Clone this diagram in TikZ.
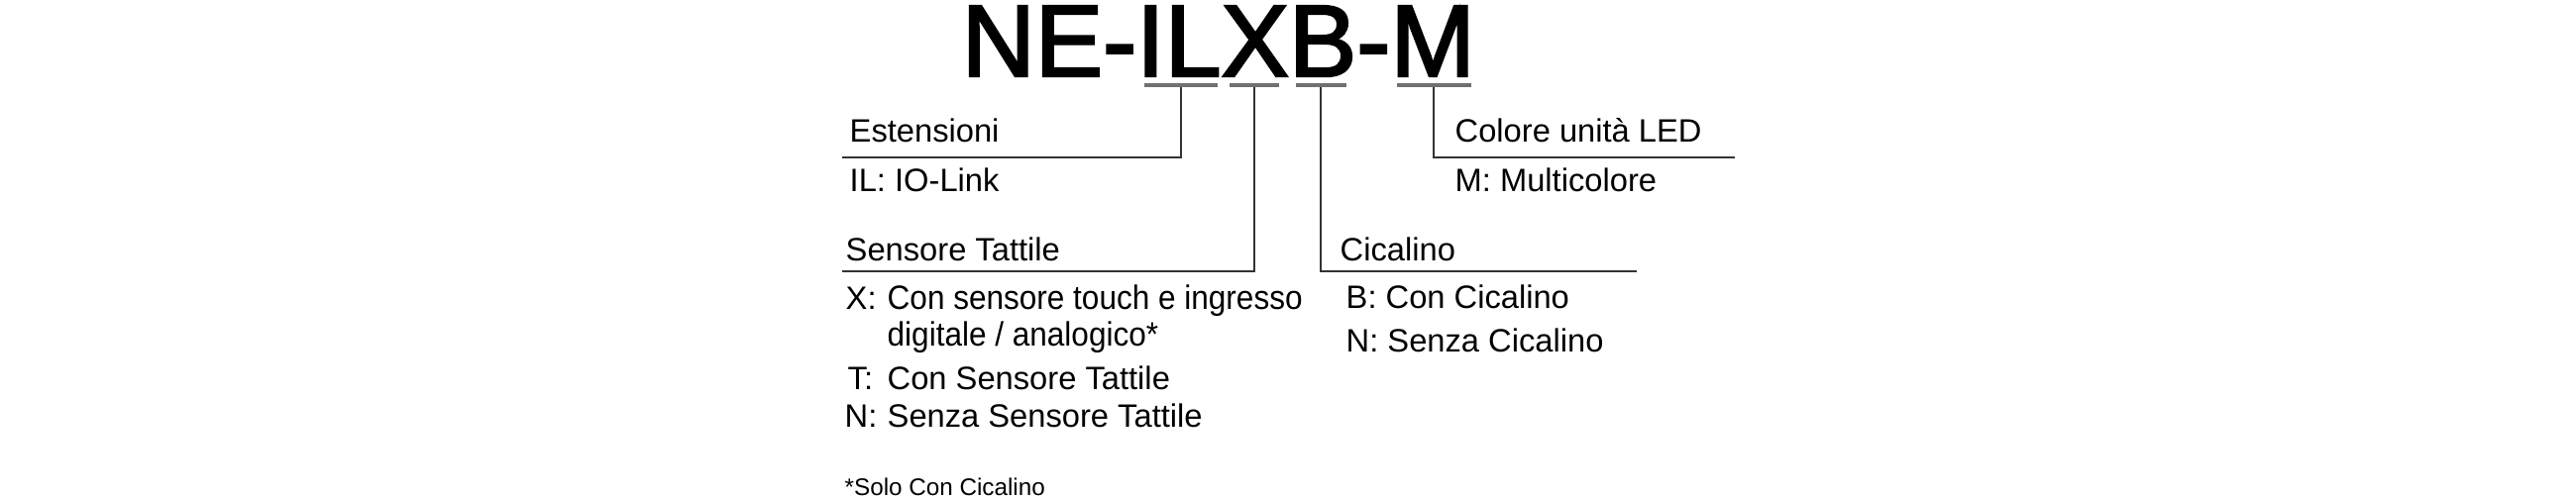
\documentclass[tikz,border=0pt]{standalone}
\usepackage{fontspec}
\setmainfont{Liberation Sans}
\newfontfamily\titlefont[FakeBold=2.4,FakeStretch=0.995]{Liberation Sans}
\newfontfamily\narrowfont[FakeStretch=0.925]{Liberation Sans}
\usetikzlibrary{positioning,calc}
\definecolor{leadgray}{gray}{0.2}
\tikzset{
    lbl/.style={inner sep=0pt,anchor=base west,font=\fontsize{9.3}{11}\selectfont},
    bar/.style={fill=leadgray!70,inner sep=0pt,minimum height=0.035cm},
    lead/.style={draw=leadgray,line width=0.5pt}
}
\begin{document}
\begin{tikzpicture}
        \useasboundingbox (0,0) rectangle (26,5.05);
        % Model code
        \node[inner sep=0pt,anchor=base west,font=\titlefont\fontsize{29.3}{32}\selectfont] (code) at (9.70,4.28) {NE-ILXB-M};
        \node[bar,minimum width=0.74cm] (barIL) at (11.92,4.19) {};
        \node[bar,minimum width=0.50cm] (barX) at (12.66,4.19) {};
        \node[bar,minimum width=0.51cm] (barB) at (13.33,4.19) {};
        \node[bar,minimum width=0.75cm] (barM) at (14.47,4.19) {};

        % Estensioni
        \coordinate (endIL) at (8.50,3.46);
        \draw[lead] (barIL.south) |- (endIL);
        \node[lbl] (extTitle) at (8.57,3.61) {Estensioni};
        \node[lbl] (extIL) at (8.57,3.11) {IL: IO-Link};

        % Colore
        \coordinate (endM) at (17.51,3.46);
        \draw[lead] (barM.south) |- (endM);
        \node[lbl] (ledTitle) at (14.68,3.61) {Colore unità LED};
        \node[lbl] (ledM) at (14.68,3.11) {M: Multicolore};

        % Sensore
        \coordinate (endX) at (8.50,2.31);
        \draw[lead] (barX.south) |- (endX);
        \node[lbl] (touchTitle) at (8.53,2.41) {Sensore Tattile};
        \node[lbl] (touchX) at (8.53,1.92) {X:};
        \node[lbl,font=\narrowfont\fontsize{9.7}{11}\selectfont] (touchXa) at (8.95,1.92) {Con sensore touch e ingresso};
        \node[lbl,font=\narrowfont\fontsize{9.7}{11}\selectfont] (touchXb) at (8.95,1.55) {digitale / analogico*};
        \node[lbl] (touchT) at (8.55,1.12) {T:};
        \node[lbl] (touchTa) at (8.95,1.12) {Con Sensore Tattile};
        \node[lbl] (touchN) at (8.52,0.73) {N:};
        \node[lbl] (touchNa) at (8.95,0.73) {Senza Sensore Tattile};

        % Cicalino
        \coordinate (endB) at (16.52,2.31);
        \draw[lead] (barB.south) |- (endB);
        \node[lbl] (buzTitle) at (13.52,2.41) {Cicalino};
        \node[lbl] (buzB) at (13.58,1.93) {B: Con Cicalino};
        \node[lbl] (buzN) at (13.58,1.49) {N: Senza Cicalino};

        % Nota
        \node[lbl,font=\fontsize{6.9}{8}\selectfont] (note) at (8.52,0.04) {*Solo Con Cicalino};
    \end{tikzpicture}
\end{document}
